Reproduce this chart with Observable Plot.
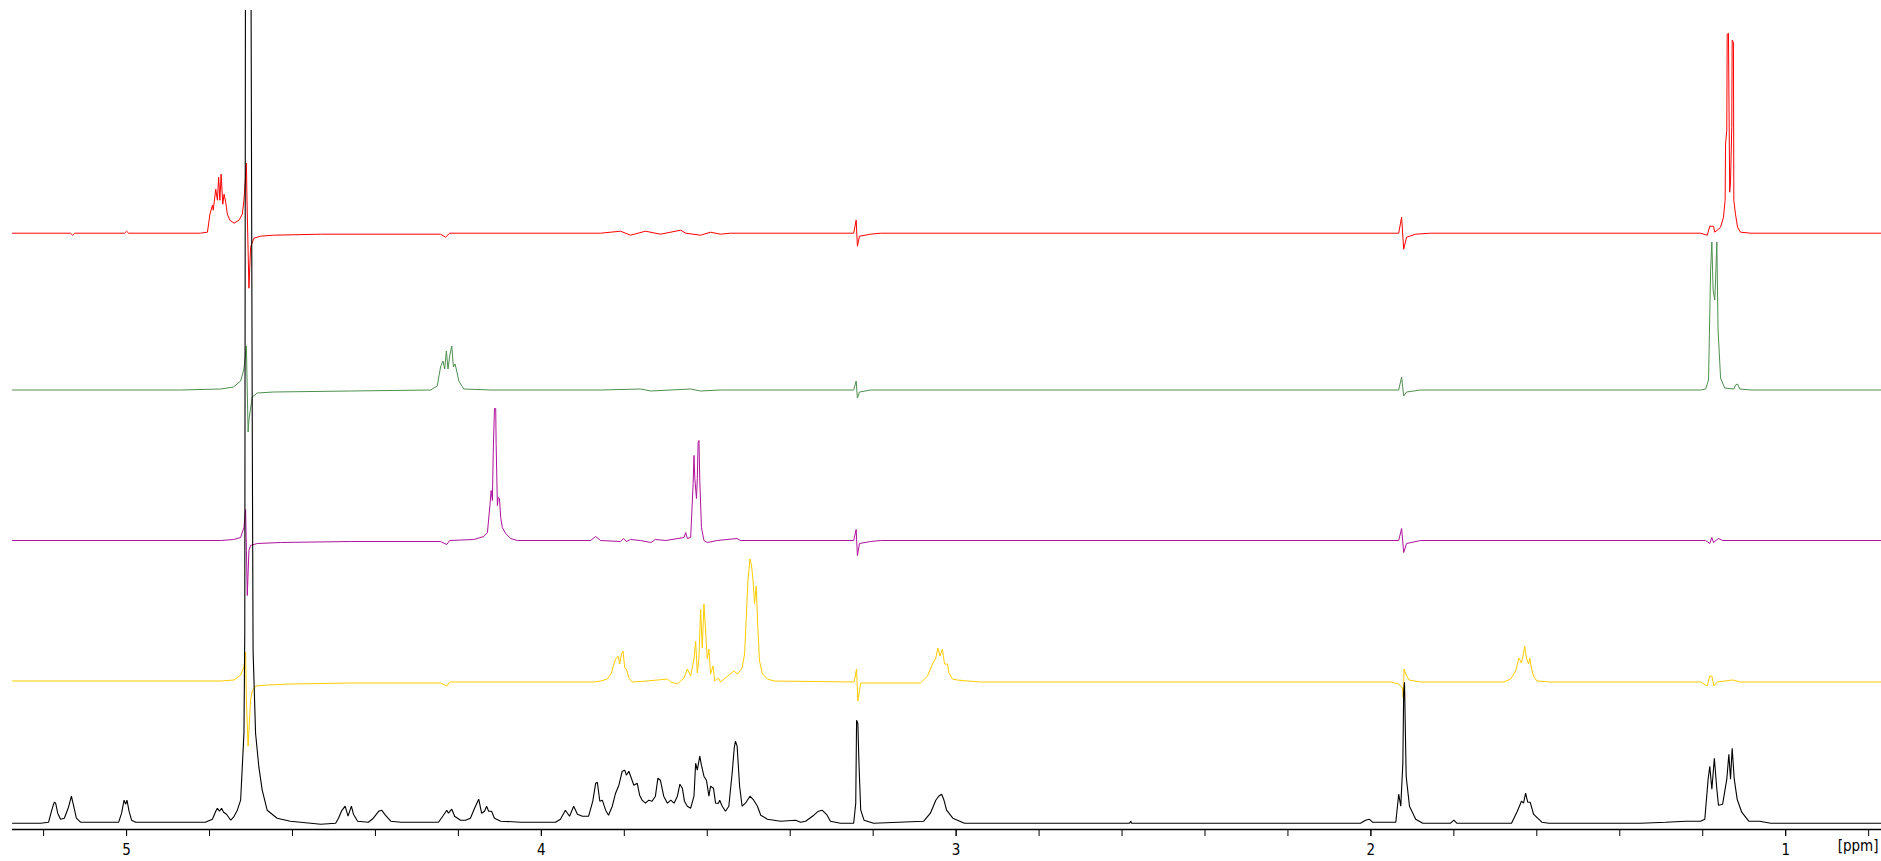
<!DOCTYPE html>
<html>
<head>
<meta charset="utf-8">
<script src="https://cdn.jsdelivr.net/npm/d3@7"></script>
<script src="https://cdn.jsdelivr.net/npm/@observablehq/plot@0.6"></script>
<style>
  html, body { margin: 0; padding: 0; background: #fff; }
  #chart svg { display: block; }
</style>
</head>
<body>
<div id="chart"></div>
<script>
// 1H NMR stack: four reference compounds above the mixture spectrum.
// Each spectrum is a list of [chemical shift (ppm), intensity] vertices.

const spectrum1 = [ // red
  [5.275,0],[5.135,0],[5.130,-2],[5.125,0],[5.005,0],[5.000,2],[4.995,0],
  [4.822,0],[4.805,1],[4.799,19],[4.793,28],[4.791,23],[4.785,44],[4.781,33],
  [4.778,56],[4.775,33],[4.772,59],[4.768,29],[4.765,39],[4.761,31],[4.757,19],
  [4.751,13],[4.741,10],[4.729,13],[4.721,19],[4.717,33],[4.711,70],[4.710,40],
  [4.705,-55],[4.701,-14],[4.693,-5],[4.677,-3],[4.646,-2],[4.532,-1],
  [4.243,-1],[4.231,-4],[4.221,0],[3.857,0],[3.809,2],[3.785,-2],[3.749,2],
  [3.713,-1],[3.664,3],[3.652,0],[3.616,-2],[3.592,1],[3.568,-1],[3.544,0],
  [3.247,0],[3.241,13],[3.238,-13],[3.233,-3],[3.206,-1],[3.182,0],
  [1.933,0],[1.926,16],[1.921,-16],[1.914,-4],[1.892,-1],[1.856,0],
  [1.205,0],[1.189,-2],[1.183,7],[1.174,7],[1.171,1],[1.165,3],[1.157,6],
  [1.150,16],[1.146,33],[1.145,89],[1.142,103],[1.141,199],[1.138,200],
  [1.135,41],[1.133,51],[1.130,106],[1.129,193],[1.126,191],[1.125,33],
  [1.121,19],[1.116,6],[1.109,1],[1.084,0],[0.769,0]
];

const spectrum2 = [ // green
  [5.275,0],[4.870,0],[4.773,1],[4.742,3],[4.725,9],[4.717,21],[4.711,44],
  [4.710,20],[4.707,-42],[4.705,-30],[4.697,-7],[4.685,-3],[4.646,-2],
  [4.460,-1],[4.267,0],[4.251,4],[4.243,23],[4.237,29],[4.233,21],[4.229,39],
  [4.225,21],[4.221,34],[4.216,44],[4.212,23],[4.208,26],[4.204,19],[4.199,9],
  [4.187,1],[4.122,0],[3.857,0],[3.761,1],[3.736,-1],[3.640,1],[3.616,-1],
  [3.568,0],[3.247,0],[3.241,9],[3.238,-8],[3.233,-2],[3.206,0],
  [1.933,0],[1.926,13],[1.921,-6],[1.914,-2],[1.880,0],
  [1.205,0],[1.193,1],[1.186,10],[1.181,120],[1.178,148],[1.175,100],
  [1.171,90],[1.169,110],[1.166,148],[1.163,60],[1.157,12],[1.147,2],
  [1.125,1],[1.121,5],[1.116,6],[1.111,1],[1.084,0],[0.769,0]
];

const spectrum3 = [ // purple
  [5.275,0],[4.773,0],[4.742,1],[4.725,3],[4.717,13],[4.713,31],[4.711,-10],
  [4.709,-55],[4.705,-10],[4.701,-5],[4.685,-3],[4.629,-2],[4.460,-1],
  [4.243,-1],[4.228,-4],[4.221,0],[4.163,1],[4.139,4],[4.130,8],[4.124,35],
  [4.121,50],[4.118,40],[4.116,88],[4.113,132],[4.110,132],[4.109,97],
  [4.106,35],[4.104,43],[4.101,42],[4.098,23],[4.094,13],[4.086,7],[4.074,2],
  [4.058,0],[3.881,0],[3.869,4],[3.857,0],[3.809,-1],[3.802,2],[3.795,-1],
  [3.785,1],[3.761,0],[3.736,-2],[3.725,1],[3.700,0],[3.656,3],[3.652,8],
  [3.648,2],[3.640,3],[3.634,57],[3.632,85],[3.630,62],[3.626,42],[3.624,62],
  [3.622,98],[3.620,100],[3.618,60],[3.614,13],[3.608,0],[3.600,-2],
  [3.576,0],[3.528,2],[3.520,0],[3.247,0],[3.241,11],[3.238,-15],[3.233,-3],
  [3.206,-1],[3.182,0],[1.933,0],[1.926,12],[1.921,-12],[1.914,-3],[1.880,0],
  [1.193,0],[1.183,-3],[1.178,3],[1.174,-2],[1.162,2],[1.152,0],[0.769,0]
];

const spectrum4 = [ // yellow
  [5.275,1],[4.773,1],[4.741,2],[4.725,7],[4.717,15],[4.713,30],[4.711,-20],
  [4.707,-64],[4.701,-18],[4.697,-9],[4.689,-4],[4.661,-3],[4.605,-2],
  [4.460,-1],[4.243,-1],[4.228,-4],[4.221,0],[3.873,0],[3.857,1],[3.841,3],
  [3.831,9],[3.825,18],[3.821,23],[3.815,26],[3.811,18],[3.807,28],[3.803,31],
  [3.799,14],[3.795,13],[3.789,4],[3.781,0],[3.745,1],[3.720,2],[3.696,3],
  [3.688,0],[3.672,-2],[3.664,1],[3.656,4],[3.648,13],[3.640,6],[3.632,23],
  [3.628,41],[3.624,9],[3.620,24],[3.616,73],[3.612,34],[3.608,78],[3.604,51],
  [3.600,23],[3.596,33],[3.592,8],[3.586,16],[3.582,1],[3.573,4],[3.568,0],
  [3.536,11],[3.527,8],[3.516,14],[3.510,28],[3.506,64],[3.502,101],
  [3.497,123],[3.493,116],[3.489,98],[3.486,78],[3.482,96],[3.478,54],
  [3.474,21],[3.467,8],[3.455,3],[3.439,1],[3.246,0],[3.240,13],[3.237,-19],
  [3.230,-1],[3.086,-1],[3.069,6],[3.057,18],[3.049,24],[3.044,34],[3.039,26],
  [3.033,33],[3.028,18],[3.021,18],[3.017,9],[3.009,3],[2.997,2],[2.973,1],
  [2.941,0],[1.952,0],[1.933,-2],[1.924,-6],[1.922,-16],[1.920,13],[1.916,8],
  [1.908,2],[1.880,0],[1.679,0],[1.663,3],[1.651,11],[1.643,24],[1.637,19],
  [1.632,29],[1.629,36],[1.625,24],[1.620,18],[1.617,24],[1.613,14],[1.608,6],
  [1.600,1],[1.567,0],[1.205,0],[1.189,-4],[1.183,6],[1.178,6],[1.173,-4],
  [1.165,0],[1.129,2],[1.109,0],[0.769,0]
];

const spectrum5 = [ // black, mixture
  [5.275,0],[5.207,0],[5.188,1],[5.181,12],[5.176,19],[5.174,21],[5.171,20],
  [5.166,10],[5.159,4],[5.150,5],[5.140,16],[5.133,27],[5.128,18],[5.121,5],
  [5.111,1],[5.019,1],[5.012,10],[5.006,23],[5.002,19],[4.999,23],[4.994,12],
  [4.988,3],[4.978,1],[4.810,1],[4.793,4],[4.785,12],[4.781,15],[4.776,12],
  [4.771,15],[4.766,11],[4.759,9],[4.749,3],[4.742,6],[4.733,13],[4.725,23],
  [4.717,90],[4.715,190],[4.713,1000],[4.701,1000],[4.697,400],[4.695,173],
  [4.689,90],[4.681,56],[4.673,33],[4.661,13],[4.637,5],[4.605,2],[4.556,0],
  [4.532,-1],[4.496,0],[4.489,5],[4.482,12],[4.473,17],[4.466,7],[4.458,17],
  [4.453,9],[4.443,2],[4.417,1],[4.405,5],[4.392,12],[4.385,13],[4.376,8],
  [4.363,2],[4.339,1],[4.248,1],[4.236,8],[4.228,13],[4.224,10],[4.216,14],
  [4.209,7],[4.195,3],[4.183,3],[4.171,5],[4.161,15],[4.151,24],[4.144,10],
  [4.137,12],[4.132,17],[4.127,12],[4.120,12],[4.113,5],[4.098,2],[4.050,1],
  [3.966,1],[3.954,4],[3.942,13],[3.932,7],[3.922,17],[3.913,9],[3.901,7],
  [3.886,7],[3.876,22],[3.869,40],[3.865,41],[3.859,22],[3.853,23],[3.845,13],
  [3.838,8],[3.829,17],[3.821,30],[3.813,38],[3.805,52],[3.799,53],[3.795,48],
  [3.789,52],[3.783,45],[3.777,38],[3.769,40],[3.763,28],[3.757,23],[3.749,20],
  [3.741,23],[3.733,22],[3.725,27],[3.719,45],[3.713,43],[3.705,27],[3.696,20],
  [3.688,23],[3.680,20],[3.672,27],[3.666,39],[3.660,35],[3.655,22],[3.648,17],
  [3.640,15],[3.632,27],[3.628,60],[3.624,53],[3.618,67],[3.614,58],[3.608,47],
  [3.602,43],[3.596,27],[3.592,37],[3.585,35],[3.580,20],[3.573,20],[3.570,23],
  [3.564,17],[3.556,12],[3.548,17],[3.540,50],[3.535,75],[3.532,82],[3.528,77],
  [3.522,37],[3.516,17],[3.508,20],[3.497,27],[3.488,23],[3.479,17],[3.471,8],
  [3.455,4],[3.423,2],[3.387,3],[3.375,1],[3.363,2],[3.343,8],[3.332,12],
  [3.323,13],[3.311,8],[3.303,2],[3.279,0],[3.247,0],[3.242,20],[3.240,103],
  [3.237,100],[3.234,57],[3.230,13],[3.222,3],[3.199,0],[3.078,2],[3.062,10],
  [3.049,23],[3.042,27],[3.035,29],[3.030,24],[3.023,13],[3.008,5],[2.980,0],
  [2.582,0],[2.579,2],[2.577,0],[2.025,0],[2.013,3],[2.004,4],[1.996,1],
  [1.940,1],[1.933,29],[1.928,17],[1.923,60],[1.921,131],[1.919,141],
  [1.915,47],[1.907,17],[1.892,4],[1.875,0],[1.808,0],[1.800,3],[1.793,0],
  [1.661,0],[1.647,12],[1.637,22],[1.632,20],[1.627,30],[1.622,21],[1.616,21],
  [1.608,9],[1.588,1],[1.571,0],[1.350,0],[1.289,1],[1.241,2],[1.205,2],
  [1.195,4],[1.187,44],[1.183,57],[1.178,34],[1.172,65],[1.166,34],[1.162,18],
  [1.152,19],[1.142,44],[1.137,69],[1.133,44],[1.129,75],[1.124,44],[1.117,24],
  [1.106,11],[1.089,2],[1.063,2],[1.036,0],[0.769,0]
];

// Axis ticks (ppm) and the visible shift window.
const minorTicks = [5.2, 5.0, 4.8, 4.6, 4.4, 4.2, 4.0, 3.8, 3.6, 3.4, 3.2, 3.0,
  2.8, 2.6, 2.4, 2.2, 2.0, 1.8, 1.6, 1.4, 1.2, 1.0, 0.8];
const majorTicks = [5, 4, 3, 2, 1];
const shiftWindow = [5.275, 0.769];

// Stacking: vertical offset (intensity units) and colour of every spectrum.
const stack = [
  {points: spectrum1, offset: 596.3, color: "#ff0000", width: 1},
  {points: spectrum2, offset: 439.5, color: "#4e8f4e", width: 1},
  {points: spectrum3, offset: 289,   color: "#b0109c", width: 1},
  {points: spectrum4, offset: 147.5, color: "#ffcc00", width: 1},
  {points: spectrum5, offset: 6.3,   color: "#000000", width: 1.1}
];

const font = '"DejaVu Sans Condensed", "Liberation Sans Narrow", "DejaVu Sans", sans-serif';

const chart = Plot.plot({
  width: 1881,
  height: 861,
  marginTop: 10,
  marginRight: 0,
  marginBottom: 32,
  marginLeft: 12,
  style: {fontFamily: font, fontSize: "15px", color: "#000", background: "#fff", overflow: "visible"},
  x: {domain: shiftWindow},
  y: {domain: [0, 819], axis: null},
  marks: [
    ...stack.map(s => Plot.line(s.points, {
      x: d => d[0],
      y: d => d[1] + s.offset,
      stroke: s.color,
      strokeWidth: s.width,
      strokeLinejoin: "miter",
      clip: true
    })),
    Plot.ruleY([0], {stroke: "#000", strokeWidth: 1.6}),
    Plot.axisX(minorTicks, {tickSize: 7, tickFormat: () => "", stroke: "#000"}),
    Plot.axisX(majorTicks, {tickSize: 7, tickPadding: 8, tickFormat: d => String(d), stroke: "#000", fill: "#000", fontSize: 15}),
    Plot.text(["[ppm]"], {frameAnchor: "bottom-right", dy: 21, dx: -3, textAnchor: "end", fill: "#000", fontSize: 15})
  ]
});

document.getElementById("chart").appendChild(chart);
</script>
</body>
</html>
